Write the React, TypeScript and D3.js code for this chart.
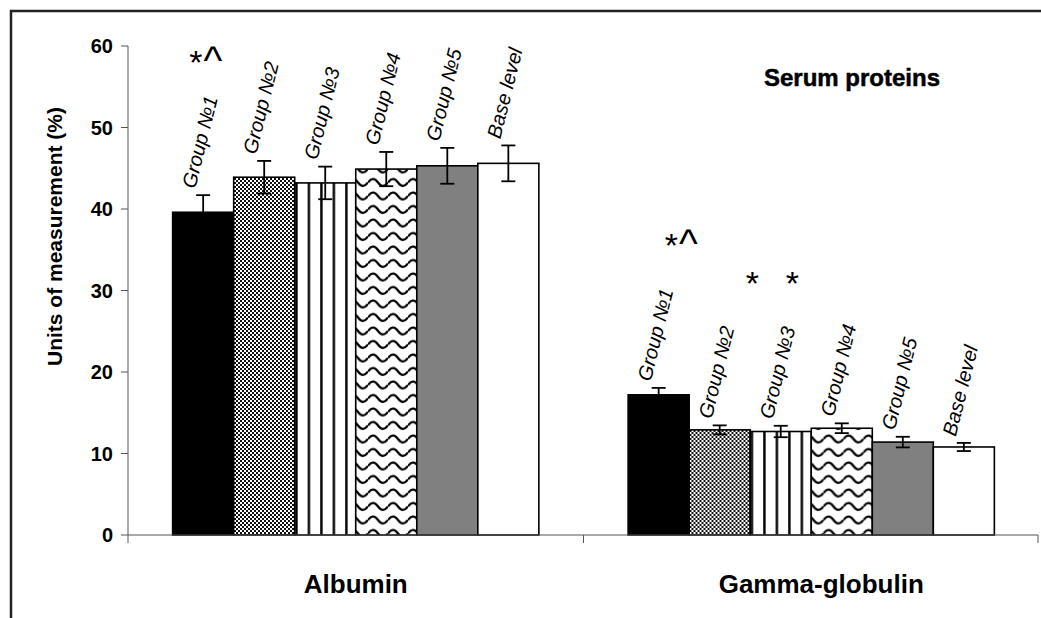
import React, { useEffect, useRef } from 'react';
import * as d3 from 'd3';

const categories = ['Albumin', 'Gamma-globulin'];
const groups = ['Group №1', 'Group №2', 'Group №3', 'Group №4', 'Group №5', 'Base level'];
const albumin = [39.6, 43.9, 43.2, 44.9, 45.3, 45.6];
const albuminErr = [2.1, 2.0, 2.0, 2.1, 2.2, 2.2];
const gamma = [17.2, 12.9, 12.7, 13.1, 11.4, 10.8];
const gammaErr = [0.85, 0.55, 0.7, 0.6, 0.65, 0.5];
const yTicks = [0, 10, 20, 30, 40, 50, 60];
// significance marks: category index, group index, text
const signCat = [0, 1, 1, 1];
const signGroup = [0, 0, 1, 2];
const signText = ['*^', '*^', '*', '*'];

const FONT = 'Liberation Sans, Arial, sans-serif';

const App = () => {
    const ref = useRef<HTMLDivElement>(null);

    useEffect(() => {
        const root = d3.select(ref.current);
        root.selectAll('*').remove();
        const W = 1041, H = 618;
        const svg = root.append('svg')
            .attr('width', W).attr('height', H)
            .style('position', 'absolute').style('left', 0).style('top', 0)
            .style('font-family', FONT);

        svg.append('rect').attr('width', W).attr('height', H).attr('fill', '#fff');

        // patterns
        const defs = svg.append('defs');
        const checker = defs.append('pattern').attr('id', 'checker')
            .attr('patternUnits', 'userSpaceOnUse').attr('width', 4).attr('height', 4);
        checker.append('rect').attr('width', 4).attr('height', 4).attr('fill', '#fff');
        checker.append('rect').attr('width', 2).attr('height', 2).attr('fill', '#111');
        checker.append('rect').attr('x', 2).attr('y', 2).attr('width', 2).attr('height', 2).attr('fill', '#111');

        const stripes = defs.append('pattern').attr('id', 'stripes')
            .attr('patternUnits', 'userSpaceOnUse').attr('width', 12.48).attr('height', 10);
        stripes.append('rect').attr('width', 12.48).attr('height', 10).attr('fill', '#fff');
        stripes.append('rect').attr('x', 5).attr('width', 2.4).attr('height', 10).attr('fill', '#000');

        const waves = defs.append('pattern').attr('id', 'waves')
            .attr('patternUnits', 'userSpaceOnUse').attr('width', 20).attr('height', 13.5);
        waves.append('rect').attr('width', 20).attr('height', 13.5).attr('fill', '#fff');
        waves.append('path').attr('d', 'M0,7 Q5,0 10,7 T20,7')
            .attr('fill', 'none').attr('stroke', '#000').attr('stroke-width', 2.2);

        const fills = ['#000', 'url(#checker)', 'url(#stripes)', 'url(#waves)', '#808080', '#fff'];

        // frame
        svg.append('path').attr('d', `M11,${H} V11 H${W}`)
            .attr('fill', 'none').attr('stroke', '#222').attr('stroke-width', 2.5);

        const y = d3.scaleLinear().domain([0, 60]).range([535, 46]);
        const x0 = d3.scaleBand().domain(categories).range([128, 1039]);
        const x1 = d3.scaleBand().domain(groups)
            .range([x0.bandwidth() * 0.098, x0.bandwidth() * 0.902]);

        // y axis
        const yAxis = svg.append('g');
        yAxis.append('line').attr('x1', 128).attr('x2', 128).attr('y1', y(60)).attr('y2', 543)
            .attr('stroke', '#555').attr('stroke-width', 1);
        yTicks.forEach(t => {
            yAxis.append('line').attr('x1', 121).attr('x2', 128).attr('y1', y(t)).attr('y2', y(t))
                .attr('stroke', '#555').attr('stroke-width', 1);
            yAxis.append('text').attr('x', 113).attr('y', y(t)).attr('dy', '0.36em')
                .attr('text-anchor', 'end').attr('font-weight', 'bold').attr('font-size', 20)
                .text(t);
        });
        svg.append('text')
            .attr('transform', `translate(62, ${(y(60) + y(0)) / 2 - 54}) rotate(-90)`)
            .attr('text-anchor', 'middle').attr('font-weight', 'bold').attr('font-size', 21)
            .text('Units of measurement (%)');

        // bars
        const series = [albumin, gamma];
        const errs = [albuminErr, gammaErr];
        categories.forEach((c, ci) => {
            const g = svg.append('g').attr('transform', `translate(${x0(c)}, 0)`);
            groups.forEach((gr, gi) => {
                const v = series[ci][gi];
                const e = errs[ci][gi];
                const bx = x1(gr) as number;
                const cx = bx + x1.bandwidth() / 2;
                g.append('rect').attr('x', bx).attr('y', y(v))
                    .attr('width', x1.bandwidth()).attr('height', y(0) - y(v))
                    .attr('fill', fills[gi]).attr('stroke', '#000').attr('stroke-width', 1.6);
                const eb = g.append('g').attr('stroke', '#000').attr('stroke-width', 1.8);
                eb.append('line').attr('x1', cx).attr('x2', cx).attr('y1', y(v - e)).attr('y2', y(v + e));
                eb.append('line').attr('x1', cx - 7).attr('x2', cx + 7).attr('y1', y(v - e)).attr('y2', y(v - e));
                eb.append('line').attr('x1', cx - 7).attr('x2', cx + 7).attr('y1', y(v + e)).attr('y2', y(v + e));
                g.append('text')
                    .attr('transform', `translate(${cx - 8}, ${y(v + e) - 6}) rotate(-76)`)
                    .attr('font-style', 'italic').attr('font-size', 20)
                    .text(gr);
            });
        });

        // x axis
        svg.append('line').attr('x1', 128).attr('x2', 1038).attr('y1', y(0)).attr('y2', y(0))
            .attr('stroke', '#555').attr('stroke-width', 1);
        [x0(categories[1]) as number, 1038].forEach(t => {
            svg.append('line').attr('x1', t).attr('x2', t).attr('y1', y(0)).attr('y2', 543)
                .attr('stroke', '#555').attr('stroke-width', 1);
        });
        categories.forEach((c, i) => {
            svg.append('text').attr('x', (x0(c) as number) + x0.bandwidth() / 2 + (i === 0 ? 0 : 10)).attr('y', 593)
                .attr('text-anchor', 'middle').attr('font-weight', 'bold').attr('font-size', 26)
                .text(c);
        });

        // significance marks
        const signLevel = [56.6, 34.1, 29.4, 29.4];
        const signDx = [-14, 6, 26, 5];
        signText.forEach((s, i) => {
            const c = categories[signCat[i]];
            const gx = (x0(c) as number) + (x1(groups[signGroup[i]]) as number) + x1.bandwidth() / 2;
            const t = svg.append('text').attr('x', gx + signDx[i]).attr('y', y(signLevel[i]));
            t.append('tspan').attr('font-size', 34).text('*');
            if (s.length > 1) t.append('tspan').attr('font-size', 40).attr('font-weight', 300).attr('dx', 1).text('^');
        });

        svg.append('text').attr('x', 940).attr('y', 86).attr('text-anchor', 'end')
            .attr('font-weight', 'bold').attr('font-size', 24)
            .attr('stroke', '#000').attr('stroke-width', 0.5).text('Serum proteins');
    }, []);

    return <div ref={ref}></div>;
};

export default App;
